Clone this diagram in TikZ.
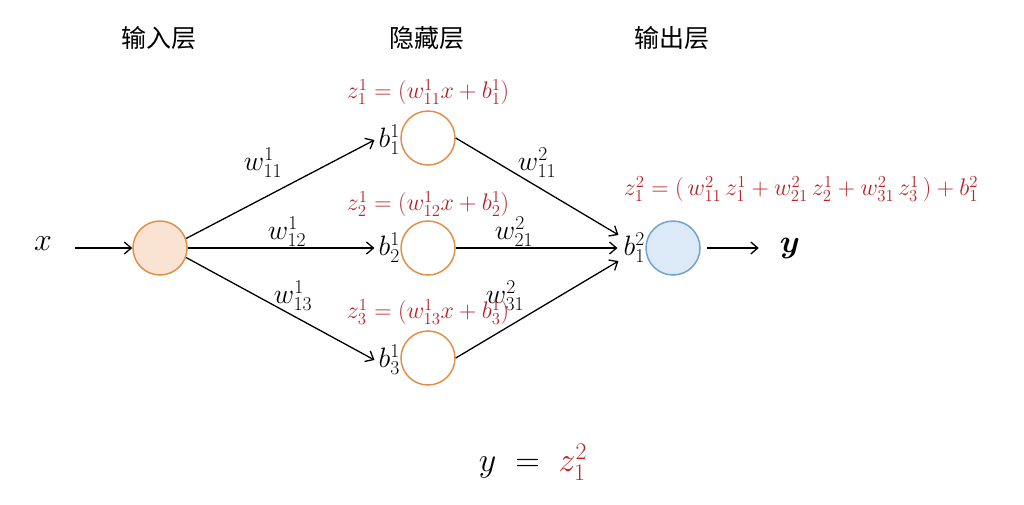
\RequirePackage{fix-cm}
\documentclass[tikz,border=0pt]{standalone}
\usepackage{amsmath}
\usepackage{bm}
\usepackage{fontspec}
\newfontfamily\cjk{Noto Sans CJK SC}
\usetikzlibrary{arrows.meta}
\definecolor{zred}{HTML}{B8232A}
\definecolor{orline}{HTML}{E0904A}
\definecolor{orfill}{HTML}{FBE3D3}
\definecolor{blline}{HTML}{72A3CF}
\definecolor{blfill}{HTML}{DCE9F6}
\begin{document}
\begin{tikzpicture}[x=1pt,y=-1pt,
  arr/.style={-{Straight Barb[length=7pt,width=12pt]}, line width=1.3pt},
  inner/.style={circle, draw=orline, fill=orfill, line width=1.5pt, minimum size=54pt, inner sep=0pt},
  hid/.style={circle, draw=orline, fill=white, line width=1.5pt, minimum size=54pt, inner sep=0pt},
  outn/.style={circle, draw=blline, fill=blfill, line width=1.5pt, minimum size=54pt, inner sep=0pt},
  head/.style={font=\cjk\fontsize{25}{28}\selectfont, inner sep=0pt},
  lab/.style={font=\fontsize{28}{32}\selectfont, inner sep=1pt},
  zf/.style={font=\fontsize{24}{27}\selectfont, text=zred, inner sep=0pt}]
\useasboundingbox (0,0) rectangle (1024,504);
\fill[white] (0,0) rectangle (1024,504);

% headers
\node[head] (h1) at (159,38) {输入层};
\node[head] (h2) at (427,38) {隐藏层};
\node[head] (h3) at (672,38) {输出层};

% nodes
\node[inner] (in) at (160,248) {};
\node[hid] (n1) at (428,138) {};
\node[hid] (n2) at (428,248) {};
\node[hid] (n3) at (428,358) {};
\node[outn] (out) at (673,248) {};

% input / output labels
\node[lab, font=\fontsize{32}{34}\selectfont] (x) at (43,244) {$x$};
\node[lab, font=\fontsize{32}{34}\selectfont] (y) at (790,248) {$\bm{y}$};
\coordinate (xs) at (75,248);

% bias labels
\node[lab, anchor=east, inner sep=0pt] (b1) at (400,140) {$b_1^1$};
\node[lab, anchor=east, inner sep=0pt] (b2) at (400,248) {$b_2^1$};
\node[lab, anchor=east, inner sep=0pt] (b3) at (400,360) {$b_3^1$};
\node[lab, anchor=east, inner sep=0pt] (bo) at (645,248) {$b_1^2$};

% arrows
\draw[arr] (xs) -- (in.west);
\draw[arr] (in.20) -- ([xshift=-4pt]b1.west);
\draw[arr] (in.east) -- ([xshift=-4pt]b2.west);
\draw[arr] (in.-20) -- ([xshift=-4pt]b3.west);
\draw[arr] (n1.east) -- ([shift={(-5pt,-2pt)}]bo.north west);
\draw[arr] (n2.east) -- ([xshift=-6pt]bo.west);
\draw[arr] (n3.east) -- ([shift={(-5pt,2pt)}]bo.south west);
\draw[arr] (out.east) ++(6,0) coordinate (os) -- ++(52,0) coordinate (oe);

% weight labels
\node[lab] (w111) at (263,163) {$w_{11}^1$};
\node[lab] (w112) at (287,232) {$w_{12}^1$};
\node[lab] (w113) at (293,296) {$w_{13}^1$};
\node[lab] (w211) at (537,163) {$w_{11}^2$};
\node[lab] (w221) at (514,232) {$w_{21}^2$};
\node[lab] (w231) at (505,296) {$w_{31}^2$};

% red formulas
\node[zf] (z1) at (428,92) {$z_1^1=(w_{11}^1x+b_1^1)$};
\node[zf] (z2) at (428,204) {$z_2^1=(w_{12}^1x+b_2^1)$};
\node[zf] (z3) at (428,312) {$z_3^1=(w_{13}^1x+b_3^1)$};
\node[zf] (zo) at (801,189) {$z_1^2=(\,w_{11}^2\,z_1^1+w_{21}^2\,z_2^1+w_{31}^2\,z_3^1\,)+b_1^2$};

% bottom
\node[lab, font=\fontsize{34}{38}\selectfont] (eq) at (533,462) {$y\;=\;\textcolor{zred}{z_1^2}$};
\end{tikzpicture}
\end{document}
